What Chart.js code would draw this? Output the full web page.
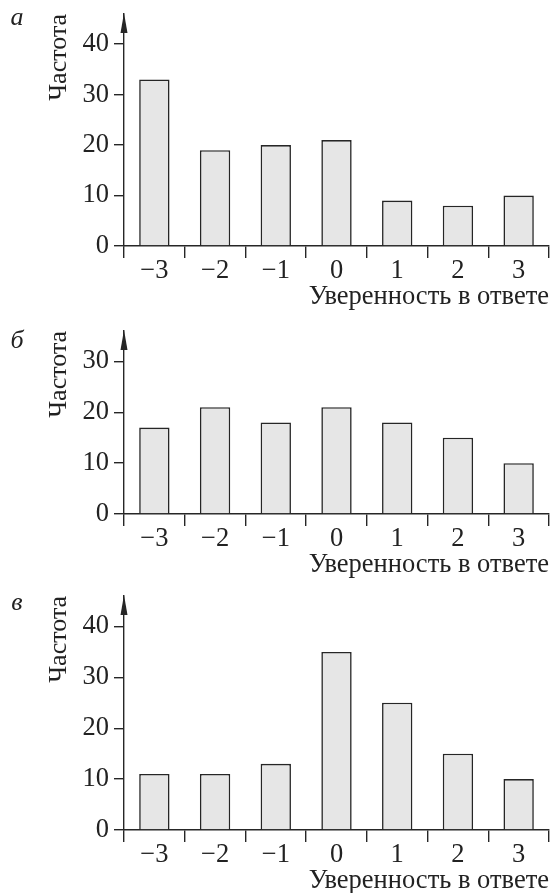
<!DOCTYPE html>
<html>
<head>
<meta charset="utf-8">
<script src="https://cdn.jsdelivr.net/npm/chart.js@4.4.1/dist/chart.umd.min.js"></script>
<style>
	body { margin: 0; background: #fff; overflow: hidden; width: 552px; height: 893px; position: relative; }
	canvas { position: absolute; left: 0; }
</style>
</head>
<body>
<canvas id="graficoA" style="top:-7px"></canvas>
<canvas id="graficoB" style="top:310px"></canvas>
<canvas id="graficoC" style="top:575px"></canvas>

<script>
	// categorias del eje x (confianza en la respuesta)
	const categorias = ['−3', '−2', '−1', '0', '1', '2', '3']

	// frecuencias de cada panel
	const valoresA = [33, 19, 20, 21, 9, 8, 10]
	const valoresB = [17, 21, 18, 21, 18, 15, 10]
	const valoresC = [11, 11, 13, 35, 25, 15, 10]

	// textos
	const tituloX = 'Уверенность в ответе'
	const tituloY = 'Частота'

	const fuente = '"Liberation Serif", "Times New Roman", serif'
	const colorLinea = '#262626'

	// dibuja la flecha del eje y y la letra del panel
	const flecha = {
		id: 'flecha',
		afterDraw(chart, args, opts) {
			const ctx = chart.ctx
			const x = chart.chartArea.left
			const y = chart.chartArea.top
			ctx.save()
			ctx.fillStyle = colorLinea
			ctx.beginPath()
			ctx.moveTo(x, y - 1)
			ctx.lineTo(x - 3.5, y + 19)
			ctx.lineTo(x + 3.5, y + 19)
			ctx.closePath()
			ctx.fill()

			ctx.fillStyle = '#222'
			ctx.font = 'italic 26px ' + fuente
			ctx.textAlign = 'center'
			ctx.textBaseline = 'alphabetic'
			ctx.fillText(opts.letra, 17, opts.base)
			ctx.restore()
		}
	}

	function crearPanel(id, valores, maximo, alto, letra, base) {
		const canvas = document.getElementById(id)
		canvas.width = 552
		canvas.height = alto
		canvas.style.width = '552px'
		canvas.style.height = alto + 'px'

		const config = {
			type: 'bar',
			data: {
				labels: categorias,
				datasets: [{
					data: valores,
					backgroundColor: '#e6e6e6',
					borderColor: colorLinea,
					borderWidth: 1.6,
					barPercentage: 0.5,
					categoryPercentage: 1.0
				}]
			},
			options: {
				responsive: false,
				animation: false,
				layout: { padding: { top: 20, left: 40, right: 3, bottom: 0 } },
				plugins: {
					legend: { display: false },
					tooltip: { enabled: false },
					flecha: { letra: letra, base: base }
				},
				scales: {
					x: {
						offset: true,
						grid: { offset: true, drawOnChartArea: false, tickLength: 12, color: colorLinea, lineWidth: 1.4 },
						border: { color: colorLinea, width: 1.4 },
						ticks: { font: { family: fuente, size: 26.5 }, color: '#222', padding: -3, maxRotation: 0 },
						title: {
							display: true, text: tituloX, align: 'end', color: '#222',
							font: { family: fuente, size: 26.5 }, padding: { top: 0, bottom: 4 }
						},
						afterFit: s => { s.height = 71 }
					},
					y: {
						min: 0,
						max: maximo,
						grid: { drawOnChartArea: false, tickLength: 10, color: colorLinea, lineWidth: 1.4 },
						border: { color: colorLinea, width: 1.4 },
						ticks: { stepSize: 10, includeBounds: false, font: { family: fuente, size: 26.5 }, color: '#222', padding: 5 },
						title: {
							display: true, text: tituloY, align: 'end', color: '#222',
							font: { family: fuente, size: 26 }, padding: 4
						},
						afterFit: s => { s.width = 84 }
					}
				}
			},
			plugins: [flecha]
		}
		return new Chart(canvas, config)
	}

	crearPanel('graficoA', valoresA, 46, 324, 'а', 32)
	crearPanel('graficoB', valoresB, 36, 275, 'б', 38)
	crearPanel('graficoC', valoresC, 46, 326, 'в', 35)
</script>
</body>
</html>
